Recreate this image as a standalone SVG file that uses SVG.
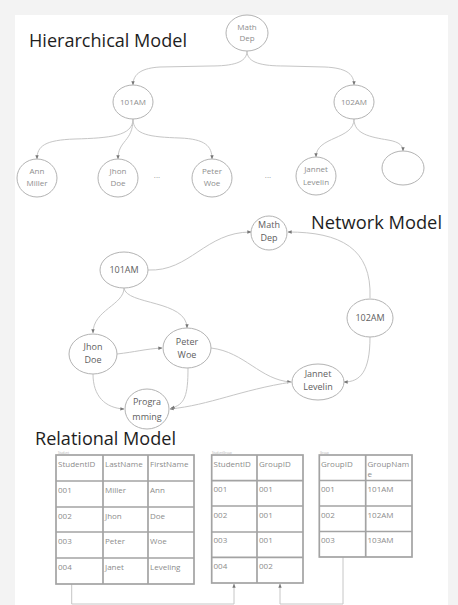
<svg xmlns="http://www.w3.org/2000/svg" width="458" height="605" viewBox="0 0 458 605">
<style>
.bg{fill:#f3f3f3}
.panel{fill:#ffffff}
.title{font-family:"Open Sans","Liberation Sans",sans-serif;font-size:19px;fill:#1e1e1e}
.node ellipse{fill:#ffffff;stroke:#b3b3b3;stroke-width:1}
.h text{font-family:"Open Sans","Liberation Sans",sans-serif;font-size:8px;fill:#8e8e8e;text-anchor:middle}
.n text{font-family:"Open Sans","Liberation Sans",sans-serif;font-size:9px;fill:#5e5e5e;text-anchor:middle}
.dots{font-family:"Open Sans","Liberation Sans",sans-serif;font-size:8px;fill:#999;text-anchor:middle}
.edges path{fill:none;stroke:#c6c6c6;stroke-width:1;marker-end:url(#arr)}
.tbl rect,.tbl line{fill:none;stroke:#a3a3a3;stroke-width:1.7}
.tbl text{font-family:"Open Sans","Liberation Sans",sans-serif;font-size:8px;fill:#8c8c8c}
.tbl text.cap{font-size:3px;fill:#b0b0b0}
</style>
<defs>
<marker id="arr" viewBox="0 0 6 6" refX="5.5" refY="3" markerWidth="4" markerHeight="4" orient="auto" markerUnits="userSpaceOnUse">
<path d="M0,0.5 L6,3 L0,5.5 z" fill="#777"/>
</marker>
</defs>
<rect class="bg" x="0" y="0" width="458" height="605"/>
<rect class="panel" x="15" y="15" width="433" height="590"/>

<text class="title" x="29" y="47" textLength="158" lengthAdjust="spacingAndGlyphs">Hierarchical Model</text>
<text class="title" x="311" y="229" textLength="131" lengthAdjust="spacingAndGlyphs">Network Model</text>
<text class="title" x="35" y="445" textLength="141" lengthAdjust="spacingAndGlyphs">Relational Model</text>

<g id="connectors" class="edges">
<path d="M247,51 C247,63 232,66 210,66 L160,67 C143,68 133,73 133,85"/>
<path d="M247,51 C247,63 262,66 285,66 L325,67 C345,68 354,73 354,85"/>
<path d="M133,119 C133,136 110,138 75,139 C45,140 37,146 37,159"/>
<path d="M133,119 C133,142 118,140 118,159"/>
<path d="M133,119 C133,135 150,137 180,138 C205,139 212,146 212,159"/>
<path d="M354,119 C354,140 316,136 316,157"/>
<path d="M354,119 C354,134 370,137 388,140 C400,142 403,146 403,151"/>

<path d="M148,270 C190,272 205,232 251,232"/>
<path d="M370,298 C372,248 340,232 288,232"/>
<path d="M370,337 C370,372 360,382 344,382"/>
<path d="M124,288 C124,305 93,310 93,333"/>
<path d="M124,288 C126,305 187,300 187,328"/>
<path d="M117,354 C135,352 145,349 162,348"/>
<path d="M211,348 C245,352 260,380 291,382"/>
<path d="M292,382 C240,390 210,405 170,409"/>
<path d="M188,368 C188,395 185,405 171,408"/>
<path d="M93,374 C93,396 105,408 124,409"/>

<path d="M71.7,584 L71.7,604 L234,604 L234,584"/>
<path d="M343,557 L343,604 L280,604 L280,584"/>
</g>

<g id="h-mathdep" class="node h"><ellipse cx="247" cy="33" rx="21" ry="18"/><text x="247" y="30">Math</text><text x="247" y="41">Dep</text></g>
<g id="h-101am" class="node h"><ellipse cx="133" cy="102" rx="20" ry="17"/><text x="133" y="105">101AM</text></g>
<g id="h-102am" class="node h"><ellipse cx="354" cy="102" rx="20" ry="17"/><text x="354" y="105">102AM</text></g>
<g id="h-annmiller" class="node h"><ellipse cx="37" cy="178" rx="20" ry="19"/><text x="37" y="173.5">Ann</text><text x="37" y="185.5">Miller</text></g>
<g id="h-jhondoe" class="node h"><ellipse cx="118" cy="178" rx="20" ry="19"/><text x="118" y="173.5">Jhon</text><text x="118" y="185.5">Doe</text></g>
<g id="h-peterwoe" class="node h"><ellipse cx="212" cy="178" rx="20" ry="19"/><text x="212" y="173.5">Peter</text><text x="212" y="185.5">Woe</text></g>
<g id="h-jannet" class="node h"><ellipse cx="316" cy="176" rx="20" ry="19"/><text x="316" y="172">Jannet</text><text x="316" y="185">Levelin</text></g>
<g id="h-empty" class="node h"><ellipse cx="403" cy="168" rx="21" ry="17"/></g>
<text class="dots" x="157" y="178">...</text>
<text class="dots" x="268" y="178">...</text>

<g id="n-mathdep" class="node n"><ellipse cx="269" cy="233" rx="18" ry="17"/><text x="269" y="228">Math</text><text x="269" y="241">Dep</text></g>
<g id="n-101am" class="node n"><ellipse cx="124" cy="270" rx="24" ry="18"/><text x="124" y="273">101AM</text></g>
<g id="n-102am" class="node n"><ellipse cx="370" cy="318" rx="23" ry="19"/><text x="370" y="321">102AM</text></g>
<g id="n-jhondoe" class="node n"><ellipse cx="93" cy="354" rx="24" ry="20"/><text x="93" y="350">Jhon</text><text x="93" y="363">Doe</text></g>
<g id="n-peterwoe" class="node n"><ellipse cx="187" cy="348" rx="24" ry="20"/><text x="187" y="345">Peter</text><text x="187" y="358">Woe</text></g>
<g id="n-jannet" class="node n"><ellipse cx="318" cy="382" rx="26" ry="18"/><text x="318" y="377">Jannet</text><text x="318" y="390">Levelin</text></g>
<g id="n-programming" class="node n"><ellipse cx="147" cy="409" rx="22" ry="20"/><text x="147" y="405">Progra</text><text x="147" y="420">mming</text></g>

<g id="t-student" class="tbl">
<text class="cap" x="58" y="453.5">Student</text>
<rect x="56" y="455" width="138" height="129"/>
<line x1="103" y1="455" x2="103" y2="584"/><line x1="148" y1="455" x2="148" y2="584"/>
<line x1="56" y1="481" x2="194" y2="481"/><line x1="56" y1="507" x2="194" y2="507"/><line x1="56" y1="532" x2="194" y2="532"/><line x1="56" y1="558" x2="194" y2="558"/>
<text x="58" y="467">StudentID</text><text x="105" y="467">LastName</text><text x="150" y="467">FirstName</text>
<text x="58" y="493">001</text><text x="105" y="493">Miller</text><text x="150" y="493">Ann</text>
<text x="58" y="519">002</text><text x="105" y="519">Jhon</text><text x="150" y="519">Doe</text>
<text x="58" y="544">003</text><text x="105" y="544">Peter</text><text x="150" y="544">Woe</text>
<text x="58" y="570">004</text><text x="105" y="570">Janet</text><text x="150" y="570">Leveling</text>
</g>

<g id="t-studentgroup" class="tbl">
<text class="cap" x="212" y="453.5">StudentGroup</text>
<rect x="211.7" y="455" width="91.3" height="128"/>
<line x1="257" y1="455" x2="257" y2="583"/>
<line x1="211.7" y1="480.6" x2="303" y2="480.6"/><line x1="211.7" y1="506" x2="303" y2="506"/><line x1="211.7" y1="532" x2="303" y2="532"/><line x1="211.7" y1="557.4" x2="303" y2="557.4"/>
<text x="213.5" y="467">StudentID</text><text x="259" y="467">GroupID</text>
<text x="213.5" y="492">001</text><text x="259" y="492">001</text>
<text x="213.5" y="518">002</text><text x="259" y="518">001</text>
<text x="213.5" y="543">003</text><text x="259" y="543">001</text>
<text x="213.5" y="569">004</text><text x="259" y="569">002</text>
</g>

<g id="t-group" class="tbl">
<text class="cap" x="320" y="453.5">Group</text>
<rect x="319.3" y="455" width="92.7" height="102"/>
<line x1="365.7" y1="455" x2="365.7" y2="557"/>
<line x1="319.3" y1="480.5" x2="412" y2="480.5"/><line x1="319.3" y1="506" x2="412" y2="506"/><line x1="319.3" y1="531.5" x2="412" y2="531.5"/>
<text x="321" y="467">GroupID</text><text x="367.5" y="467">GroupNam</text><text x="367.5" y="477">e</text>
<text x="321" y="492">001</text><text x="367.5" y="492">101AM</text>
<text x="321" y="518">002</text><text x="367.5" y="518">102AM</text>
<text x="321" y="543">003</text><text x="367.5" y="543">103AM</text>
</g>
</svg>
